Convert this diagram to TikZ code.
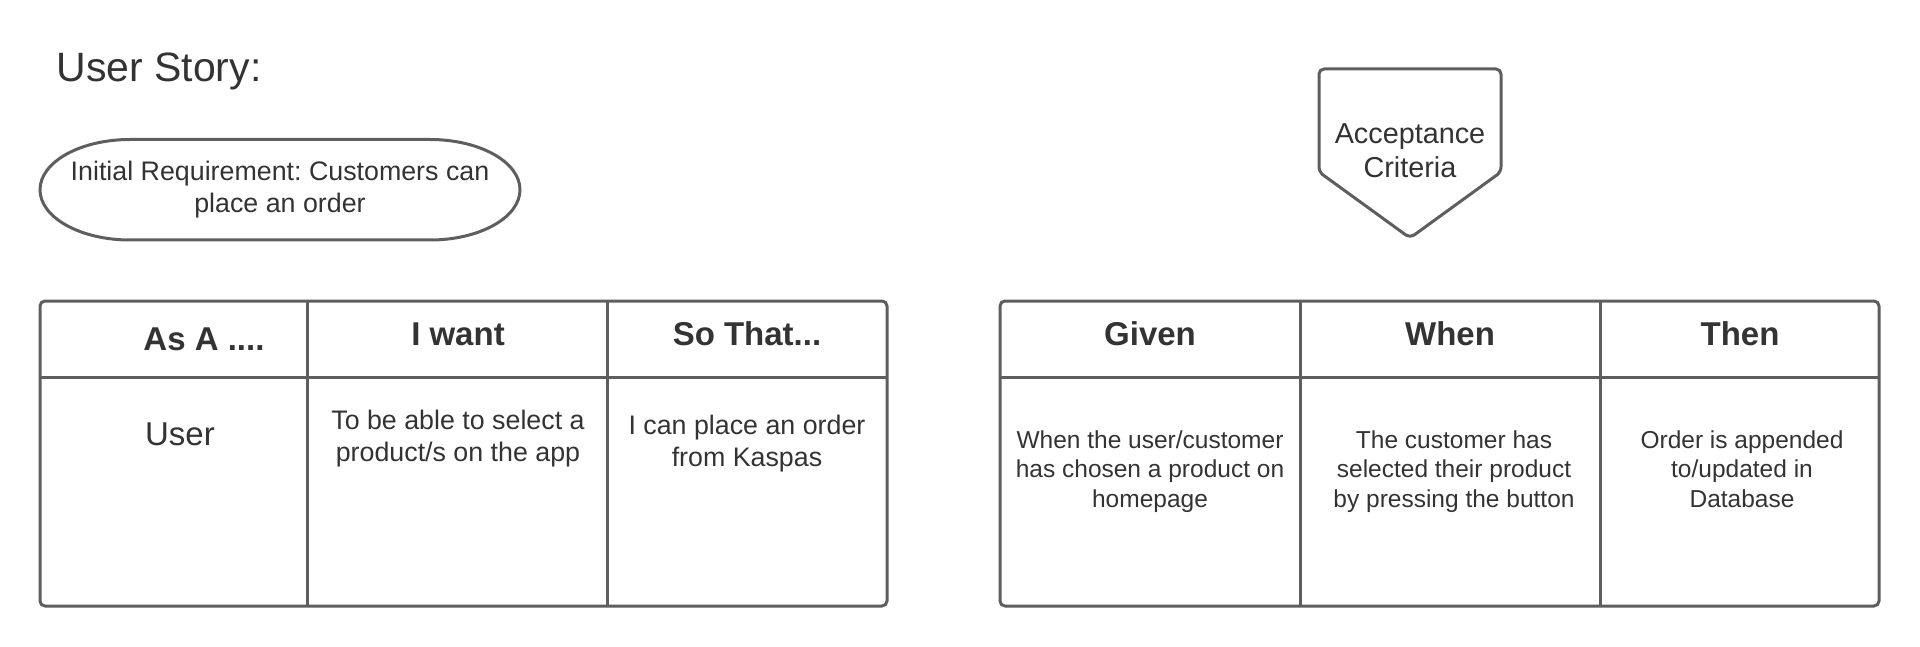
\documentclass[tikz,border=0pt]{standalone}
\usepackage{fontspec}
\setmainfont{Liberation Sans}
\usepackage{tikz}
\definecolor{edge}{HTML}{5E5E5E}
\definecolor{ink}{HTML}{333333}
\frenchspacing

\begin{document}
\begin{tikzpicture}[x=1pt, y=-1pt, line width=3pt, draw=edge, line join=round,
		every node/.style={text=ink, inner sep=0pt, align=center},
		head/.style={font=\fontsize{33}{40}\selectfont\bfseries, anchor=base},
		body/.style={font=\fontsize{26.8}{32}\selectfont, anchor=north},
		small/.style={font=\fontsize{24.5}{29.5}\selectfont, anchor=north}]
			\useasboundingbox (0,0) rectangle (1920,647);
			\node[font=\fontsize{41}{49}\selectfont, anchor=base west](title) at (55, 82) {User Story:};
			% requirement
			\draw[edge] (130,139.5) -- (430,139.5) arc[start angle=-90, end angle=90, x radius=90, y radius=50.25]
				-- (130,240) arc[start angle=90, end angle=270, x radius=90, y radius=50.25] -- cycle;
			\node[body](req) at (280, 160) {Initial Requirement: Customers can\\place an order};
			% acceptance criteria
			\draw[edge, rounded corners=5pt] (1319,69) -- (1501,69) -- (1501,172) -- (1410,238) -- (1319,172) -- cycle;
			\node[font=\fontsize{28.8}{34}\selectfont, anchor=north](acc) at (1410, 122) {Acceptance\\Criteria};
			% user story table
			\draw[edge, rounded corners=5pt] (40,301) rectangle (887,606);
			\draw[edge] (40,377) -- (887,377);
			\draw[edge] (307.5,301) -- (307.5,606);
			\draw[edge] (607.5,301) -- (607.5,606);
			\node[head](asa) at (204, 350) {As A ....};
			\node[head](want) at (458, 345) {I want};
			\node[head](so) at (747, 345) {So That...};
			\node[font=\fontsize{33}{40}\selectfont, anchor=base](user) at (180, 445) {User};
			\node[body](select) at (458, 409) {To be able to select a\\product/s on the app};
			\node[body](order) at (747, 414) {I can place an order\\from Kaspas};
			% acceptance table
			\draw[edge, rounded corners=5pt] (1000,301) rectangle (1879,606);
			\draw[edge] (1000,377) -- (1879,377);
			\draw[edge] (1300,301) -- (1300,606);
			\draw[edge] (1600,301) -- (1600,606);
			\node[head](given) at (1150, 345) {Given};
			\node[head](when) at (1450, 345) {When};
			\node[head](then) at (1740, 345) {Then};
			\node[small](chosen) at (1150, 429) {When the user/customer\\has chosen a product on\\homepage};
			\node[small](pressed) at (1454, 429) {The customer has\\selected their product\\by pressing the button};
			\node[small](db) at (1742, 429) {Order is appended\\to/updated in\\Database};
		\end{tikzpicture}
\end{document}
